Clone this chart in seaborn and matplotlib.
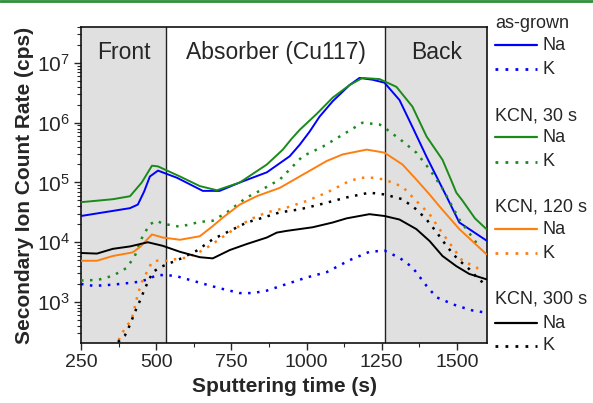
import matplotlib
matplotlib.use("Agg")
import matplotlib.pyplot as plt
from matplotlib.lines import Line2D
from matplotlib.ticker import LogLocator, MultipleLocator
import seaborn as sns
import pandas as pd

# ---------------- data ----------------
asgrown_na_t = [250, 350, 413, 439, 460, 479, 506, 569, 655, 711, 778, 868, 944, 977, 1010, 1043, 1087, 1143, 1176, 1219, 1259, 1309, 1352, 1399, 1465, 1508, 1598]
asgrown_na = [2.75e4, 3.31e4, 3.72e4, 4.27e4, 7.08e4, 1.26e5, 1.58e5, 1.2e5, 7.24e4, 7.24e4, 1.0e5, 1.48e5, 2.75e5, 4.27e5, 7.08e5, 1.26e6, 2.29e6, 4.27e6, 5.62e6, 5.25e6, 4.68e6, 2.4e6, 8.51e5, 2.69e5, 5.89e4, 2.14e4, 1.07e4]

asgrown_k_t = [250, 293, 356, 413, 446, 472, 502, 536, 569, 612, 668, 711, 778, 821, 868, 934, 1000, 1067, 1143, 1209, 1259, 1309, 1352, 1399, 1432, 1498, 1551, 1598]
asgrown_k = [2.0e3, 1.86e3, 1.95e3, 2.09e3, 2.19e3, 2.4e3, 2.82e3, 2.82e3, 2.69e3, 2.34e3, 1.95e3, 1.7e3, 1.41e3, 1.41e3, 1.55e3, 2.0e3, 2.57e3, 3.16e3, 5.01e3, 6.92e3, 7.24e3, 5.5e3, 3.8e3, 1.86e3, 1.2e3, 8.71e2, 7.24e2, 6.61e2]

kcn30_na_t = [250, 356, 413, 452, 486, 506, 579, 645, 702, 778, 868, 921, 950, 977, 1034, 1087, 1143, 1186, 1243, 1299, 1352, 1399, 1452, 1480, 1498, 1518, 1560, 1598]
kcn30_na = [4.68e4, 5.25e4, 5.89e4, 1.0e5, 1.91e5, 1.86e5, 1.26e5, 8.71e4, 7.41e4, 1.0e5, 2.0e5, 3.55e5, 5.37e5, 7.59e5, 1.41e6, 2.63e6, 4.27e6, 5.62e6, 5.37e6, 3.98e6, 1.86e6, 5.89e5, 2.4e5, 1.12e5, 6.76e4, 5.01e4, 2.51e4, 1.66e4]

kcn30_k_t = [250, 306, 356, 402, 429, 455, 479, 502, 522, 579, 645, 688, 735, 801, 844, 911, 987, 1054, 1120, 1186, 1243, 1269, 1319, 1365, 1409, 1452, 1508, 1575]
kcn30_k = [2.29e3, 2.34e3, 2.75e3, 3.72e3, 5.89e3, 1.26e4, 2.0e4, 2.29e4, 2.04e4, 1.82e4, 2.19e4, 2.29e4, 3.16e4, 5.62e4, 7.24e4, 1.12e5, 2.75e5, 3.98e5, 6.31e5, 1.0e6, 9.33e5, 7.59e5, 4.9e5, 3.16e5, 1.66e5, 7.94e4, 2.4e4, 8.32e3]

kcn120_na_t = [250, 303, 356, 422, 446, 486, 522, 579, 645, 688, 721, 778, 834, 911, 977, 1067, 1120, 1200, 1259, 1319, 1365, 1409, 1442, 1508, 1598]
kcn120_na = [4.9e3, 4.9e3, 5.89e3, 6.76e3, 8.32e3, 1.35e4, 1.2e4, 1.1e4, 1.26e4, 1.86e4, 2.57e4, 4.27e4, 5.89e4, 8.13e4, 1.26e5, 2.29e5, 2.95e5, 3.55e5, 3.16e5, 2.0e5, 1.12e5, 6.31e4, 3.98e4, 1.66e4, 6.31e3]

kcn120_k_t = [375, 385, 403, 419, 429, 439, 452, 469, 486, 502, 536, 579, 602, 645, 678, 745, 811, 868, 934, 1000, 1067, 1133, 1176, 1219, 1259, 1319, 1365, 1409, 1442, 1485, 1518, 1565, 1585]
kcn120_k = [229, 295, 398, 525, 832, 1.35e3, 2.14e3, 3.16e3, 4.68e3, 4.9e3, 4.9e3, 5.37e3, 5.5e3, 6.92e3, 8.71e3, 1.48e4, 2.4e4, 3.16e4, 3.8e4, 4.9e4, 6.76e4, 1.0e5, 1.2e5, 1.2e5, 1.12e5, 8.51e4, 4.9e4, 2.95e4, 1.66e4, 8.32e3, 4.9e3, 3.8e3, 2.95e3]

kcn300_na_t = [250, 303, 356, 413, 472, 522, 579, 645, 688, 745, 801, 868, 901, 934, 1020, 1087, 1133, 1209, 1259, 1309, 1365, 1409, 1452, 1498, 1541, 1598]
kcn300_na = [6.61e3, 6.46e3, 7.76e3, 8.51e3, 1.0e4, 8.71e3, 6.92e3, 5.62e3, 5.37e3, 7.41e3, 9.33e3, 1.2e4, 1.45e4, 1.55e4, 1.78e4, 2.14e4, 2.51e4, 2.95e4, 2.75e4, 2.4e4, 1.66e4, 1.05e4, 5.89e3, 3.98e3, 2.95e3, 2.4e3]

kcn300_k_t = [373, 396, 413, 429, 446, 462, 472, 489, 512, 536, 579, 635, 688, 745, 801, 854, 911, 977, 1043, 1133, 1209, 1259, 1319, 1365, 1399, 1432, 1468, 1502, 1541, 1565, 1585]
kcn300_k = [214, 275, 417, 676, 1.05e3, 1.66e3, 2.14e3, 3.16e3, 3.8e3, 4.27e3, 5.25e3, 7.24e3, 1.12e4, 1.55e4, 2.14e4, 2.57e4, 3.16e4, 3.55e4, 4.27e4, 5.62e4, 6.76e4, 6.31e4, 5.25e4, 3.55e4, 2.4e4, 1.48e4, 8.32e3, 5.25e3, 3.55e3, 2.63e3, 2.14e3]

groups = ["as-grown", "KCN, 30 s", "KCN, 120 s", "KCN, 300 s"]
elements = ["Na", "K"]
regions = ["Front", "Absorber (Cu117)", "Back"]
region_edges = [250, 532, 1262, 1600]
x_ticks = [250, 500, 750, 1000, 1250, 1500]

series = {
    ("as-grown", "Na"): (asgrown_na_t, asgrown_na),
    ("as-grown", "K"): (asgrown_k_t, asgrown_k),
    ("KCN, 30 s", "Na"): (kcn30_na_t, kcn30_na),
    ("KCN, 30 s", "K"): (kcn30_k_t, kcn30_k),
    ("KCN, 120 s", "Na"): (kcn120_na_t, kcn120_na),
    ("KCN, 120 s", "K"): (kcn120_k_t, kcn120_k),
    ("KCN, 300 s", "Na"): (kcn300_na_t, kcn300_na),
    ("KCN, 300 s", "K"): (kcn300_k_t, kcn300_k),
}

# ---------------- style ----------------
sns.set_style("ticks")
plt.rcParams["font.family"] = ["Liberation Sans", "DejaVu Sans"]
plt.rcParams["mathtext.fontset"] = "custom"
plt.rcParams["mathtext.rm"] = "Liberation Sans"
plt.rcParams["mathtext.it"] = "Liberation Sans:italic"
plt.rcParams["mathtext.bf"] = "Liberation Sans:bold"

colors = {"as-grown": "#0000ff", "KCN, 30 s": "#1a8a1a",
          "KCN, 120 s": "#ff7f0e", "KCN, 300 s": "#000000"}
styles = {"Na": "-", "K": (0, (1, 2.6))}
widths = {"Na": 1.4, "K": 1.8}

fig = plt.figure(figsize=(5.93, 4.03), dpi=100)
ax = fig.add_axes([81 / 593, 1 - 343 / 403, (487 - 81) / 593, (343 - 27) / 403])

# shaded regions
ax.axvspan(region_edges[0], region_edges[1], color="#e0e0e0", zorder=0, lw=0)
ax.axvspan(region_edges[2], region_edges[3], color="#e0e0e0", zorder=0, lw=0)
ax.axvline(region_edges[1], color="#222222", lw=1.0, zorder=1)
ax.axvline(region_edges[2], color="#222222", lw=1.0, zorder=1)

for (g, e), (t, v) in series.items():
    df = pd.DataFrame({"t": t, "v": v})
    sns.lineplot(data=df, x="t", y="v", ax=ax, color=colors[g],
                 linestyle=styles[e], lw=widths[e], legend=False, zorder=3)

ax.set_yscale("log")
ax.set_xlim(250, 1600)
ax.set_ylim(206, 4.0e7)
ax.set_xticks(x_ticks)
ax.xaxis.set_minor_locator(MultipleLocator(125))
ax.yaxis.set_major_locator(LogLocator(base=10, numticks=20))
ax.yaxis.set_minor_locator(LogLocator(base=10, subs=range(2, 10), numticks=100))
ax.tick_params(axis="x", which="major", labelsize=14)
ax.tick_params(axis="y", which="major", labelsize=15)
ax.tick_params(axis="both", which="major", direction="out", length=5, width=1.0, pad=3)
ax.tick_params(axis="both", which="minor", direction="out", length=3, width=0.8)
for s in ax.spines.values():
    s.set_linewidth(1.2)
    s.set_color("#111111")

ax.set_xlabel("Sputtering time (s)", fontsize=15, fontweight="bold", labelpad=4)
ax.set_ylabel("Secondary Ion Count Rate (cps)", fontsize=15, fontweight="bold", labelpad=2)

# region labels
for i, name in enumerate(regions):
    xc = (region_edges[i] + region_edges[i + 1]) / 2
    ax.text(xc, 0.918, name, transform=ax.get_xaxis_transform(), ha="center",
            va="center", fontsize=16.5, zorder=4)

# manual grouped legend on the right
title_y = [23, 116, 207, 299]
na_y = [45, 137, 229, 323]
k_y = [69, 162, 253, 346]
x0, x1, xt = 495 / 593, 537 / 593, 543 / 593
for g, ty, ny, ky in zip(groups, title_y, na_y, k_y):
    fig.text(x0, 1 - ty / 403, g, fontsize=13, ha="left", va="center")
    for el, yy in zip(elements, [ny, ky]):
        yf = 1 - yy / 403
        fig.add_artist(Line2D([x0, x1], [yf, yf], color=colors[g],
                              linestyle=styles[el], lw=widths[el] + 0.2,
                              transform=fig.transFigure))
        fig.text(xt, yf, el, fontsize=13, ha="left", va="center")

# green frame line at top of image
fig.add_artist(Line2D([0, 1], [0.9975, 0.9975], color="#2d8f39", lw=2.0,
                      transform=fig.transFigure))

fig.savefig("out.png", dpi=100)
